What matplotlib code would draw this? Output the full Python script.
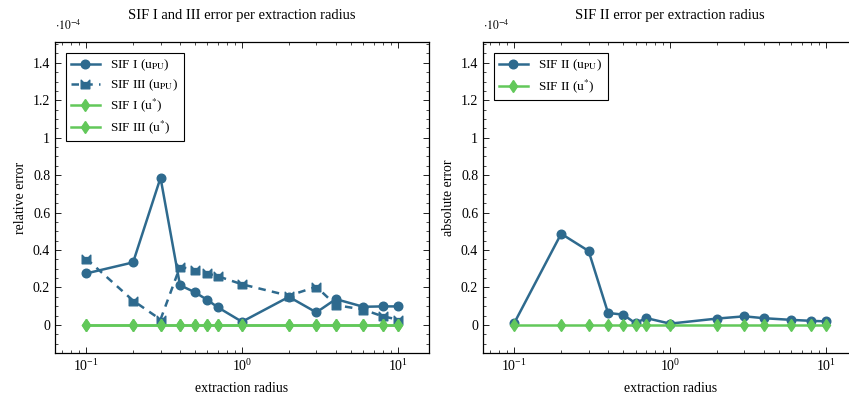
import numpy as np
import matplotlib
matplotlib.use('Agg')
import matplotlib.pyplot as plt
from matplotlib.path import Path
from matplotlib.ticker import FixedLocator, MultipleLocator, FuncFormatter, LogLocator, NullFormatter

plt.rcParams['font.family'] = 'serif'
plt.rcParams['font.serif'] = ['Liberation Serif', 'DejaVu Serif']
plt.rcParams['mathtext.fontset'] = 'stix'

# extraction radii
radius = [0.1, 0.2, 0.3, 0.4, 0.5, 0.6, 0.7, 1.0, 2, 3, 4, 6, 8, 10]

# errors in units of 1e-4
sif1_pu = [0.275, 0.334, 0.786, 0.212, 0.174, 0.133, 0.094, 0.017, 0.15, 0.067, 0.138, 0.097, 0.099, 0.099]
sif3_pu = [0.354, 0.13, 0.029, 0.31, 0.294, 0.275, 0.26, 0.217, 0.156, 0.204, 0.106, 0.082, 0.046, 0.029]
sif1_star = [0] * 14
sif3_star = [0] * 14
sif2_pu = [0.01, 0.487, 0.395, 0.064, 0.055, 0.009, 0.037, 0.007, 0.034, 0.046, 0.036, 0.027, 0.022, 0.019]
sif2_star = [0] * 14

blue = '#2e6a8e'
green = '#62c85a'

# cat-head like marker (pgfplots style)
cat = Path([(-1, -1), (1, -1), (1, 1), (0.45, 0.45), (-0.45, 0.45), (-1, 1), (-1, -1)],
           [Path.MOVETO] + [Path.LINETO] * 5 + [Path.CLOSEPOLY])

fig = plt.figure(figsize=(8.49, 3.98), dpi=100)
ax1 = fig.add_axes([0.0648, 0.113, 0.4405, 0.781])
ax2 = fig.add_axes([0.569, 0.113, 0.4405, 0.781])

ax1.plot(radius, sif1_pu, color=blue, lw=1.8, marker='o', ms=6.2, label=r'SIF I (u$_{\mathrm{PU}}$)')
ax1.plot(radius, sif3_pu, color=blue, lw=1.8, ls=(0, (3, 2.5)), marker=cat, ms=6.2,
         label=r'SIF III (u$_{\mathrm{PU}}$)')
ax1.plot(radius, sif1_star, color=green, lw=1.8, marker='d', ms=6, label=r'SIF I (u$^{*}$)')
ax1.plot(radius, sif3_star, color=green, lw=1.8, marker='d', ms=6, label=r'SIF III (u$^{*}$)')

ax2.plot(radius, sif2_pu, color=blue, lw=1.8, marker='o', ms=6.2, label=r'SIF II (u$_{\mathrm{PU}}$)')
ax2.plot(radius, sif2_star, color=green, lw=1.8, marker='d', ms=6, label=r'SIF II (u$^{*}$)')

for ax, title, ylab in [(ax1, 'SIF I and III error per extraction radius', 'relative error'),
                        (ax2, 'SIF II error per extraction radius', 'absolute error')]:
    ax.set_xscale('log')
    ax.set_xlim(10 ** -1.2, 10 ** 1.2)
    ax.set_ylim(-0.15, 1.51)
    ax.yaxis.set_major_locator(FixedLocator([0, 0.2, 0.4, 0.6, 0.8, 1.0, 1.2, 1.4]))
    ax.yaxis.set_minor_locator(MultipleLocator(0.05))
    ax.yaxis.set_major_formatter(FuncFormatter(lambda v, p: '%g' % round(v, 2)))
    ax.xaxis.set_major_locator(LogLocator(base=10, numticks=10))
    ax.xaxis.set_minor_locator(LogLocator(base=10, subs=np.arange(2, 10), numticks=10))
    ax.xaxis.set_minor_formatter(NullFormatter())
    ax.tick_params(which='both', direction='in', top=True, right=True, labelsize=10)
    ax.tick_params(which='major', length=4, width=0.6)
    ax.tick_params(which='minor', length=2.5, width=0.5)
    for s in ax.spines.values():
        s.set_linewidth(0.9)
    ax.set_title(title, fontsize=10.5, pad=17)
    ax.set_xlabel('extraction radius', fontsize=10, labelpad=6)
    ax.set_ylabel(ylab, fontsize=10, labelpad=4)
    ax.text(0.0, 1.03, r'$\cdot 10^{-4}$', transform=ax.transAxes, fontsize=8.5, va='bottom', ha='left')
    leg = ax.legend(loc='upper left', fontsize=9.5, frameon=True, fancybox=False, framealpha=1,
                    edgecolor='black', handlelength=2.2, borderpad=0.4, labelspacing=0.3,
                    borderaxespad=0.8)
    leg.get_frame().set_linewidth(0.8)

fig.savefig('out.png', dpi=100)
